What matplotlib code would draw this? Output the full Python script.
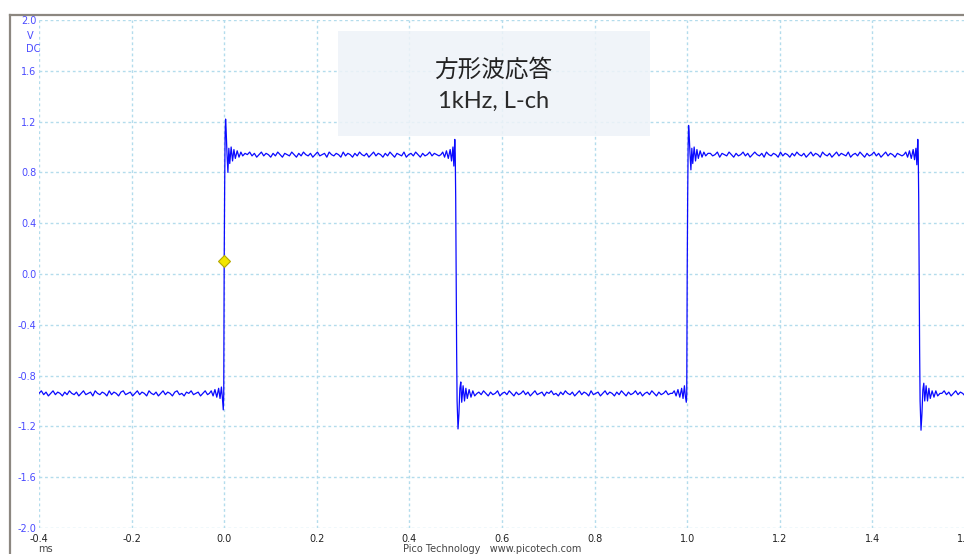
import numpy as np
import matplotlib
matplotlib.use("Agg")
import matplotlib.pyplot as plt
from matplotlib.patches import Rectangle
from matplotlib.lines import Line2D

# ---- trace data (ms, V)
low1_v = [-0.94, -0.92, -0.95, -0.93, -0.96, -0.94, -0.92, -0.95, -0.93, -0.94,
          -0.96, -0.93, -0.95, -0.92, -0.94, -0.95, -0.93, -0.96, -0.94, -0.92,
          -0.95, -0.94, -0.93, -0.96, -0.92, -0.94, -0.95, -0.93, -0.94, -0.96,
          -0.92, -0.95, -0.93, -0.94, -0.96, -0.93, -0.92, -0.95, -0.94, -0.93,
          -0.96, -0.94, -0.92, -0.95, -0.93, -0.94, -0.96, -0.92, -0.94, -0.95,
          -0.93, -0.96, -0.94, -0.92, -0.95, -0.93, -0.94, -0.96, -0.93, -0.92,
          -0.95, -0.94, -0.96, -0.93, -0.94, -0.92, -0.95, -0.94, -0.93, -0.96,
          -0.94, -0.92, -0.95]

edge1_t = [-0.032, -0.028, -0.024, -0.020, -0.016, -0.012, -0.009, -0.006, -0.004, -0.002,
           -0.001, 0.000, 0.001, 0.002, 0.003, 0.004, 0.006, 0.008, 0.010, 0.012,
           0.015, 0.018, 0.021, 0.024, 0.028, 0.032, 0.036, 0.040, 0.045]
edge1_v = [-0.94, -0.92, -0.96, -0.91, -0.97, -0.90, -0.98, -0.89, -0.97, -1.07,
           -0.95, 0.10, 0.70, 1.10, 1.22, 1.15, 0.95, 0.80, 0.99, 0.87,
           1.00, 0.89, 0.98, 0.91, 0.97, 0.92, 0.96, 0.93, 0.95]

high1_v = [0.94, 0.96, 0.93, 0.95, 0.92, 0.94, 0.96, 0.93, 0.95, 0.94,
           0.92, 0.95, 0.93, 0.96, 0.94, 0.92, 0.95, 0.94, 0.93, 0.96,
           0.94, 0.92, 0.95, 0.93, 0.96, 0.94, 0.93, 0.95, 0.92, 0.94,
           0.96, 0.93, 0.94, 0.95, 0.92, 0.96, 0.94, 0.93, 0.95, 0.94,
           0.92, 0.96, 0.93, 0.95, 0.94, 0.92, 0.95, 0.93, 0.96, 0.94,
           0.93, 0.95, 0.92, 0.94, 0.96, 0.93, 0.95, 0.94, 0.92, 0.95,
           0.93, 0.96, 0.94, 0.92, 0.95, 0.94, 0.93, 0.96, 0.92, 0.94,
           0.95, 0.93, 0.96, 0.94, 0.92, 0.95, 0.93, 0.94, 0.96, 0.93,
           0.95, 0.94, 0.93]

edge2_t = [0.468, 0.472, 0.476, 0.480, 0.484, 0.488, 0.491, 0.494, 0.496, 0.498,
           0.499, 0.500, 0.501, 0.502, 0.503, 0.505, 0.507, 0.509, 0.511, 0.513,
           0.516, 0.519, 0.522, 0.525, 0.529, 0.533, 0.537, 0.541, 0.546]
edge2_v = [0.94, 0.96, 0.92, 0.97, 0.91, 0.98, 0.89, 1.00, 0.85, 1.06,
           0.95, 0.60, 0.00, -0.60, -1.00, -1.22, -1.10, -0.90, -0.85, -1.01,
           -0.88, -1.00, -0.90, -0.98, -0.91, -0.97, -0.92, -0.96, -0.94]

low2_v = [-0.93, -0.95, -0.92, -0.94, -0.96, -0.93, -0.95, -0.94, -0.92, -0.96,
          -0.94, -0.93, -0.95, -0.92, -0.94, -0.96, -0.93, -0.95, -0.94, -0.92,
          -0.95, -0.93, -0.96, -0.94, -0.92, -0.95, -0.94, -0.93, -0.96, -0.93,
          -0.94, -0.92, -0.95, -0.94, -0.96, -0.93, -0.95, -0.92, -0.94, -0.95,
          -0.93, -0.96, -0.94, -0.92, -0.95, -0.93, -0.94, -0.96, -0.92, -0.95,
          -0.94, -0.93, -0.96, -0.94, -0.92, -0.95, -0.93, -0.94, -0.96, -0.93,
          -0.95, -0.92, -0.94, -0.96, -0.93, -0.95, -0.94, -0.92, -0.95, -0.93,
          -0.96, -0.94, -0.93, -0.95, -0.92, -0.94, -0.96, -0.93, -0.95, -0.94,
          -0.92, -0.95, -0.94]

edge3_t = [0.968, 0.972, 0.976, 0.980, 0.984, 0.988, 0.991, 0.994, 0.996, 0.998,
           0.999, 1.000, 1.001, 1.002, 1.003, 1.004, 1.006, 1.008, 1.010, 1.012,
           1.015, 1.018, 1.021, 1.024, 1.028, 1.032, 1.036, 1.040, 1.045]
edge3_v = [-0.94, -0.92, -0.96, -0.91, -0.97, -0.90, -0.98, -0.88, -0.96, -1.01,
           -0.95, 0.00, 0.60, 1.00, 1.17, 1.12, 0.95, 0.82, 0.99, 0.87,
           1.00, 0.89, 0.98, 0.91, 0.97, 0.92, 0.96, 0.93, 0.95]

high2_v = [0.95, 0.93, 0.94, 0.96, 0.92, 0.95, 0.94, 0.93, 0.96, 0.94,
           0.92, 0.95, 0.93, 0.94, 0.96, 0.93, 0.95, 0.92, 0.94, 0.96,
           0.94, 0.93, 0.95, 0.92, 0.96, 0.94, 0.93, 0.95, 0.94, 0.92,
           0.96, 0.93, 0.95, 0.94, 0.92, 0.95, 0.93, 0.96, 0.94, 0.93,
           0.95, 0.92, 0.94, 0.96, 0.93, 0.95, 0.94, 0.92, 0.96, 0.94,
           0.93, 0.95, 0.92, 0.94, 0.96, 0.93, 0.95, 0.94, 0.93, 0.96,
           0.92, 0.94, 0.95, 0.93, 0.96, 0.94, 0.92, 0.95, 0.93, 0.94,
           0.96, 0.93, 0.95, 0.92, 0.94, 0.96, 0.93, 0.95, 0.94, 0.92,
           0.95, 0.94, 0.93]

edge4_t = [1.468, 1.472, 1.476, 1.480, 1.484, 1.488, 1.491, 1.494, 1.496, 1.498,
           1.499, 1.500, 1.501, 1.502, 1.503, 1.505, 1.507, 1.509, 1.511, 1.513,
           1.516, 1.519, 1.522, 1.525, 1.529, 1.533, 1.537, 1.541, 1.546]
edge4_v = [0.94, 0.96, 0.92, 0.97, 0.91, 0.98, 0.90, 0.99, 0.86, 1.06,
           0.95, 0.60, 0.00, -0.60, -1.00, -1.23, -1.10, -0.91, -0.86, -1.00,
           -0.88, -1.00, -0.90, -0.98, -0.92, -0.97, -0.92, -0.96, -0.94]

low3_v = [-0.94, -0.92, -0.95, -0.93, -0.96, -0.94, -0.92, -0.95, -0.93, -0.94,
          -0.96, -0.93, -0.95, -0.94, -0.92]

# flat stretches: (start ms, end ms, values)
flats = [(-0.4, -0.036, low1_v), (0.05, 0.464, high1_v), (0.55, 0.964, low2_v),
         (1.05, 1.464, high2_v), (1.55, 1.62, low3_v)]
edges = [(edge1_t, edge1_v), (edge2_t, edge2_v), (edge3_t, edge3_v), (edge4_t, edge4_v)]

trigger_t, trigger_v = 0.0, 0.1

x_ticks = [-0.4, -0.2, 0.0, 0.2, 0.4, 0.6, 0.8, 1.0, 1.2, 1.4, 1.6]
y_ticks = [-2.0, -1.6, -1.2, -0.8, -0.4, 0.0, 0.4, 0.8, 1.2, 1.6, 2.0]

TITLE = "方形波応答"
SUBTITLE = "1kHz, L-ch"


def build_trace():
    ts, vs = [], []
    for i, (t0, t1, vals) in enumerate(flats):
        ts.append(np.linspace(t0, t1, len(vals)))
        vs.append(np.array(vals))
        if i < len(edges):
            ts.append(np.array(edges[i][0]))
            vs.append(np.array(edges[i][1]))
    return np.concatenate(ts), np.concatenate(vs)


def main():
    t, v = build_trace()

    W, H = 964, 554
    fig = plt.figure(figsize=(W / 100, H / 100), dpi=100)
    fig.patch.set_facecolor("white")

    # plot area: x -0.4 -> px 39, 1.6 -> px 965 ; y 2.0 -> px 20, -2.0 -> px 528
    ax = fig.add_axes([39 / W, 26 / H, 926 / W, 508 / H])
    ax.set_xlim(-0.4, 1.6)
    ax.set_ylim(-2.0, 2.0)
    for s in ax.spines.values():
        s.set_visible(False)

    ax.set_xticks(x_ticks)
    ax.set_yticks(y_ticks)
    ax.set_xticklabels([f"{x:.1f}" for x in x_ticks])
    ax.set_yticklabels([f"{y:.1f}" for y in y_ticks])
    ax.tick_params(axis="both", length=0, labelsize=7)
    ax.tick_params(axis="x", pad=4, labelcolor="#222222")
    ax.tick_params(axis="y", pad=2, labelcolor="#4a4aff")
    ax.grid(True, color="#b3dcec", linestyle=(0, (2, 2)), linewidth=1.0)
    ax.set_axisbelow(True)

    # title box
    ax.add_patch(Rectangle((0.246, 1.087), 0.674, 0.826, facecolor="#eef3f8",
                           edgecolor="none", alpha=0.85, zorder=2))
    ax.text(0.581, 1.606, TITLE, ha="center", va="center", fontsize=17,
            color="#222222", family=["Noto Sans CJK JP", "DejaVu Sans"], zorder=3)
    ax.text(0.581, 1.362, SUBTITLE, ha="center", va="center", fontsize=17,
            color="#2a2a2a", family=["Lato", "DejaVu Sans"], zorder=3)

    ax.plot(t, v, color="#0a0aff", linewidth=0.9, zorder=4, clip_on=True)
    ax.plot([trigger_t], [trigger_v], marker="D", markersize=6,
            markerfacecolor="#f2e600", markeredgecolor="#b5a800",
            markeredgewidth=0.8, linestyle="none", zorder=5)

    # unit labels on the y axis
    fig.text(27 / W, 1 - 36 / H, "V", ha="left", va="center", fontsize=7, color="#4a4aff")
    fig.text(26 / W, 1 - 49 / H, "DC", ha="left", va="center", fontsize=7, color="#4a4aff")

    # footer, low on the window edge
    fig.text(45 / W, 1 - 544 / H, "ms", ha="center", va="top", fontsize=7, color="#444444")
    fig.text(492 / W, 1 - 544 / H, "Pico Technology   www.picotech.com", ha="center",
             va="top", fontsize=7, color="#444444")

    # window frame
    fc = "#8c8780"
    fig.add_artist(Line2D([10 / W, 1.0], [1 - 15 / H, 1 - 15 / H], color=fc,
                          linewidth=1.6, transform=fig.transFigure))
    fig.add_artist(Line2D([10 / W, 10 / W], [0.0, 1 - 15 / H], color=fc,
                          linewidth=1.6, transform=fig.transFigure))

    fig.savefig("out.png", dpi=100)


if __name__ == "__main__":
    main()
